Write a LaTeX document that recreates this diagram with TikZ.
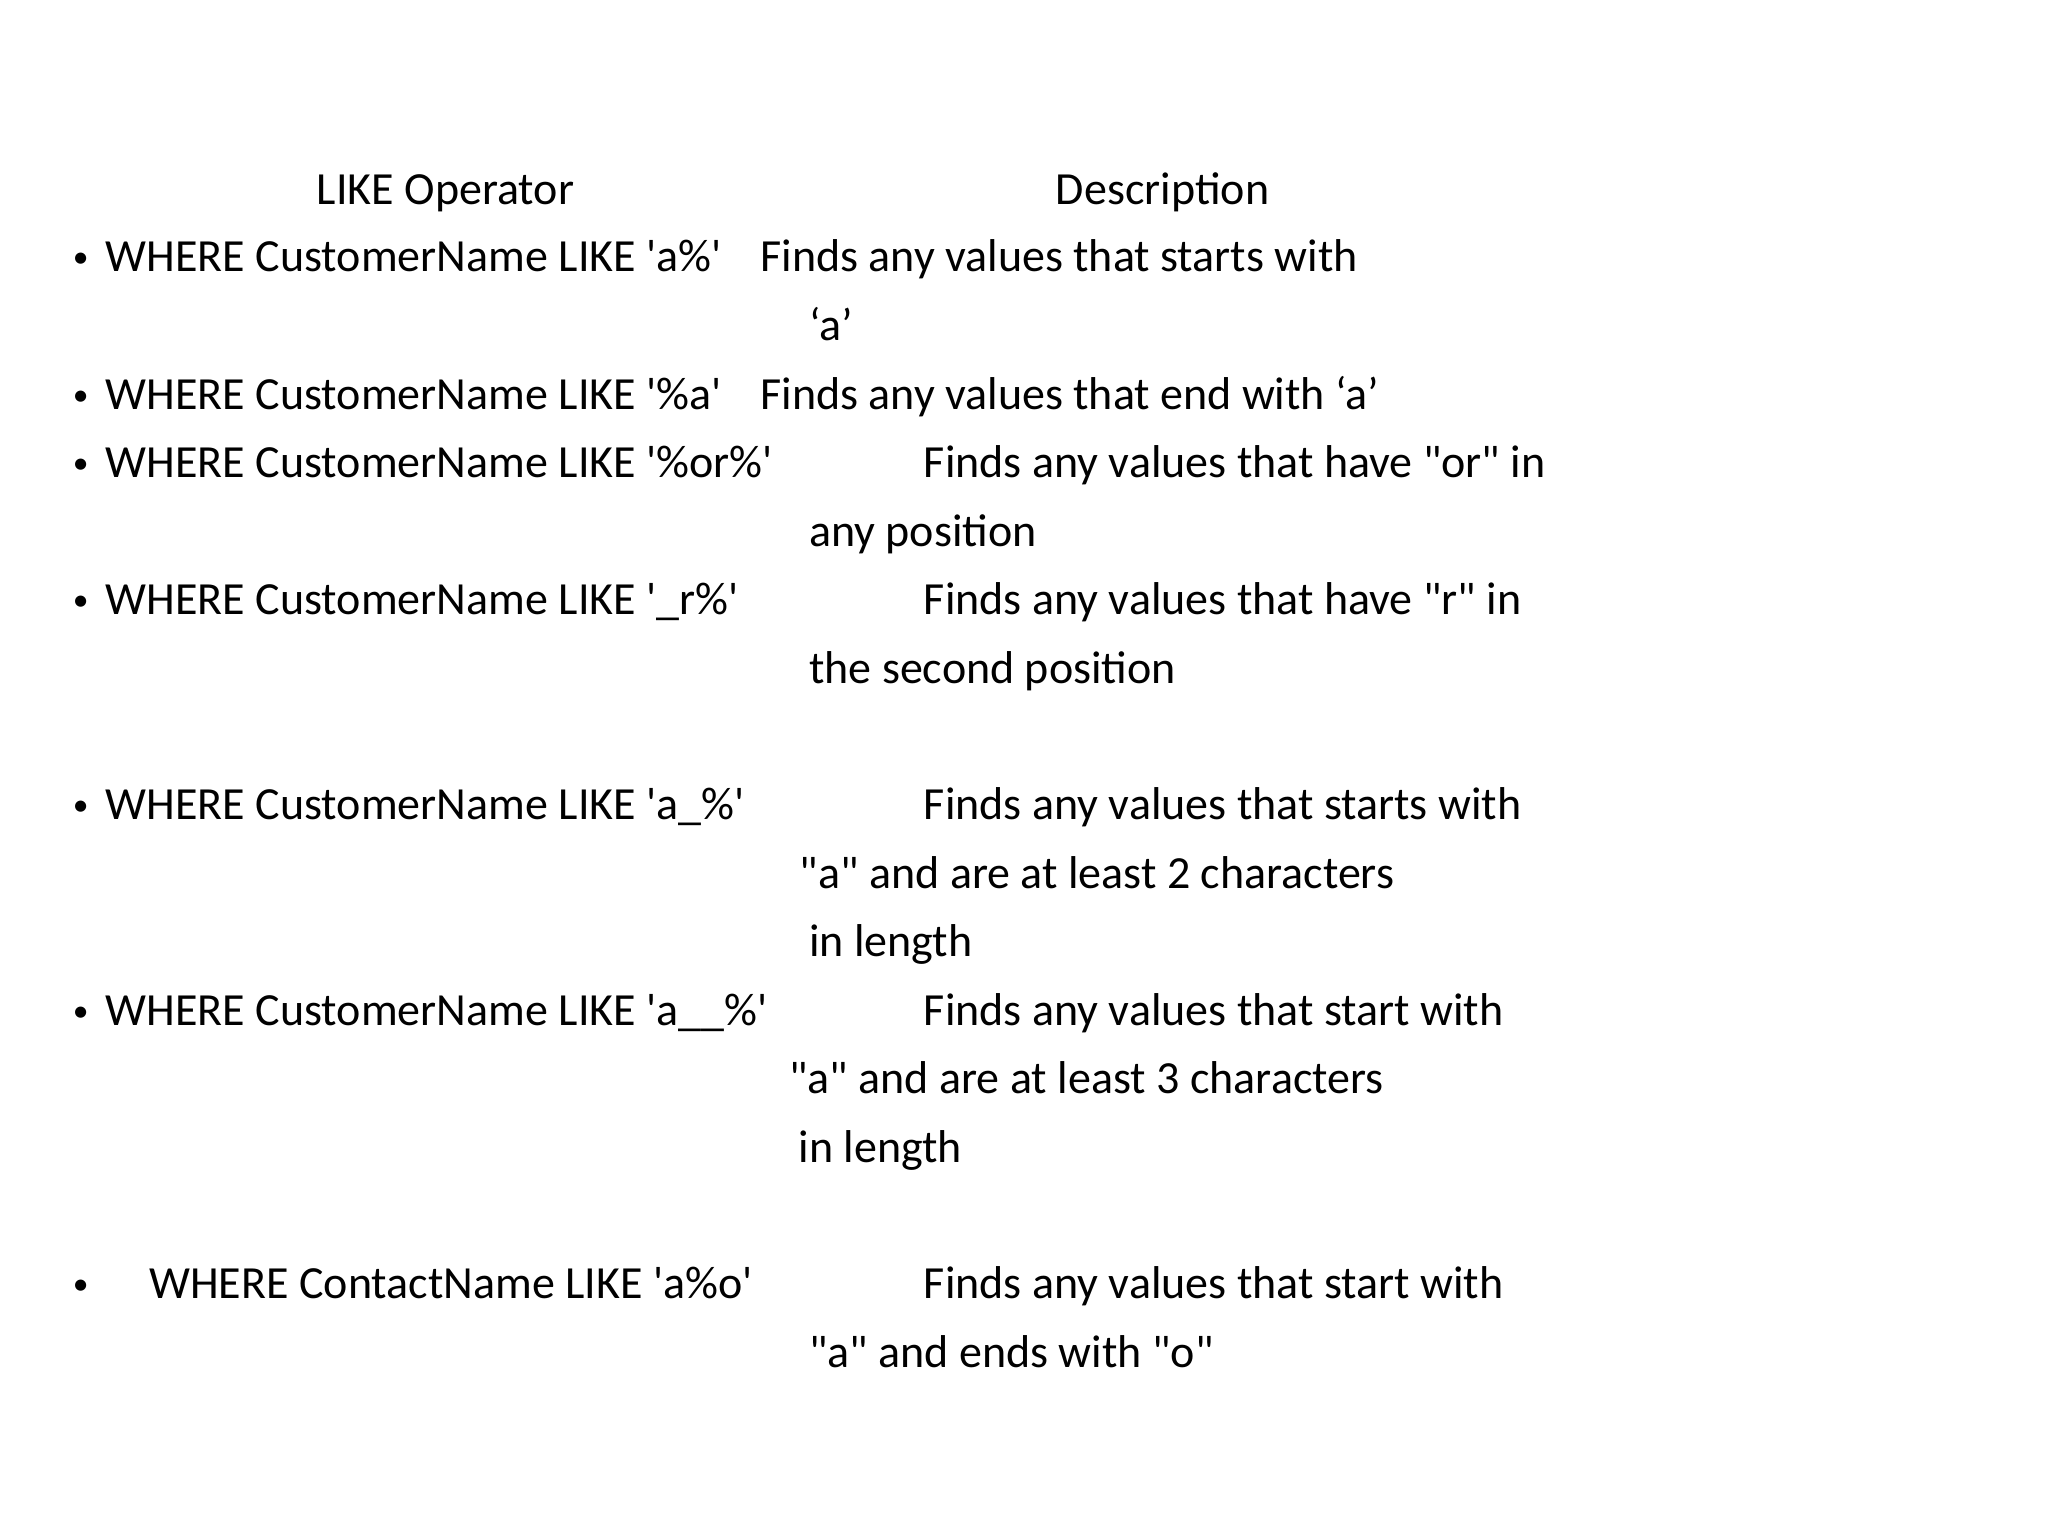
\documentclass[tikz,border=0pt]{standalone}
\usepackage{fontspec}
\setmainfont{Carlito}
\newcommand{\sq}{\textquotesingle}
\newcommand{\dq}{\textquotedbl}
\begin{document}
\begin{tikzpicture}[x=1bp,y=-1bp,t/.style={anchor=base west,inner sep=0pt,font=\fontsize{35}{40}\selectfont}]
\useasboundingbox (0,0) rectangle (1552,1164);
\node[t] (h1) at (240,155) {LIKE Operator};
\node[t] (h2) at (800,155) {Description};
\foreach \y in {206,310,362,466,621,777,984} \node[t,font=\fontsize{24}{28}\selectfont] at (55,\y-3) {\textbullet};
\node[t] (a1) at (80,206) {WHERE CustomerName LIKE \sq a\%\sq};
\node[t] (d1) at (576,206) {Finds any values that starts with};
\node[t] at (613,258) {‘a’};
\node[t] (a2) at (80,310) {WHERE CustomerName LIKE \sq\%a\sq};
\node[t] (d2) at (576,310) {Finds any values that end with ‘a’};
\node[t] (a3) at (80,362) {WHERE CustomerName LIKE \sq\%or\%\sq};
\node[t] (d3) at (700,362) {Finds any values that have \dq or\dq{} in};
\node[t] at (613,414) {any position};
\node[t] (a4) at (80,466) {WHERE CustomerName LIKE \sq\_r\%\sq};
\node[t] (d4) at (700,466) {Finds any values that have \dq r\dq{} in};
\node[t] at (613,518) {the second position};
\node[t] (a5) at (80,621) {WHERE CustomerName LIKE \sq a\_\%\sq};
\node[t] (d5) at (700,621) {Finds any values that starts with};
\node[t] at (606,673) {\dq a\dq{} and are at least 2 characters};
\node[t] at (613,725) {in length};
\node[t] (a6) at (80,777) {WHERE CustomerName LIKE \sq a\_\_\%\sq};
\node[t] (d6) at (700,777) {Finds any values that start with};
\node[t] at (598,829) {\dq a\dq{} and are at least 3 characters};
\node[t] at (605,881) {in length};
\node[t] (a7) at (113,984) {WHERE ContactName LIKE \sq a\%o\sq};
\node[t] (d7) at (700,984) {Finds any values that start with};
\node[t] at (613,1036) {\dq a\dq{} and ends with \dq o\dq};
\end{tikzpicture}
\end{document}
